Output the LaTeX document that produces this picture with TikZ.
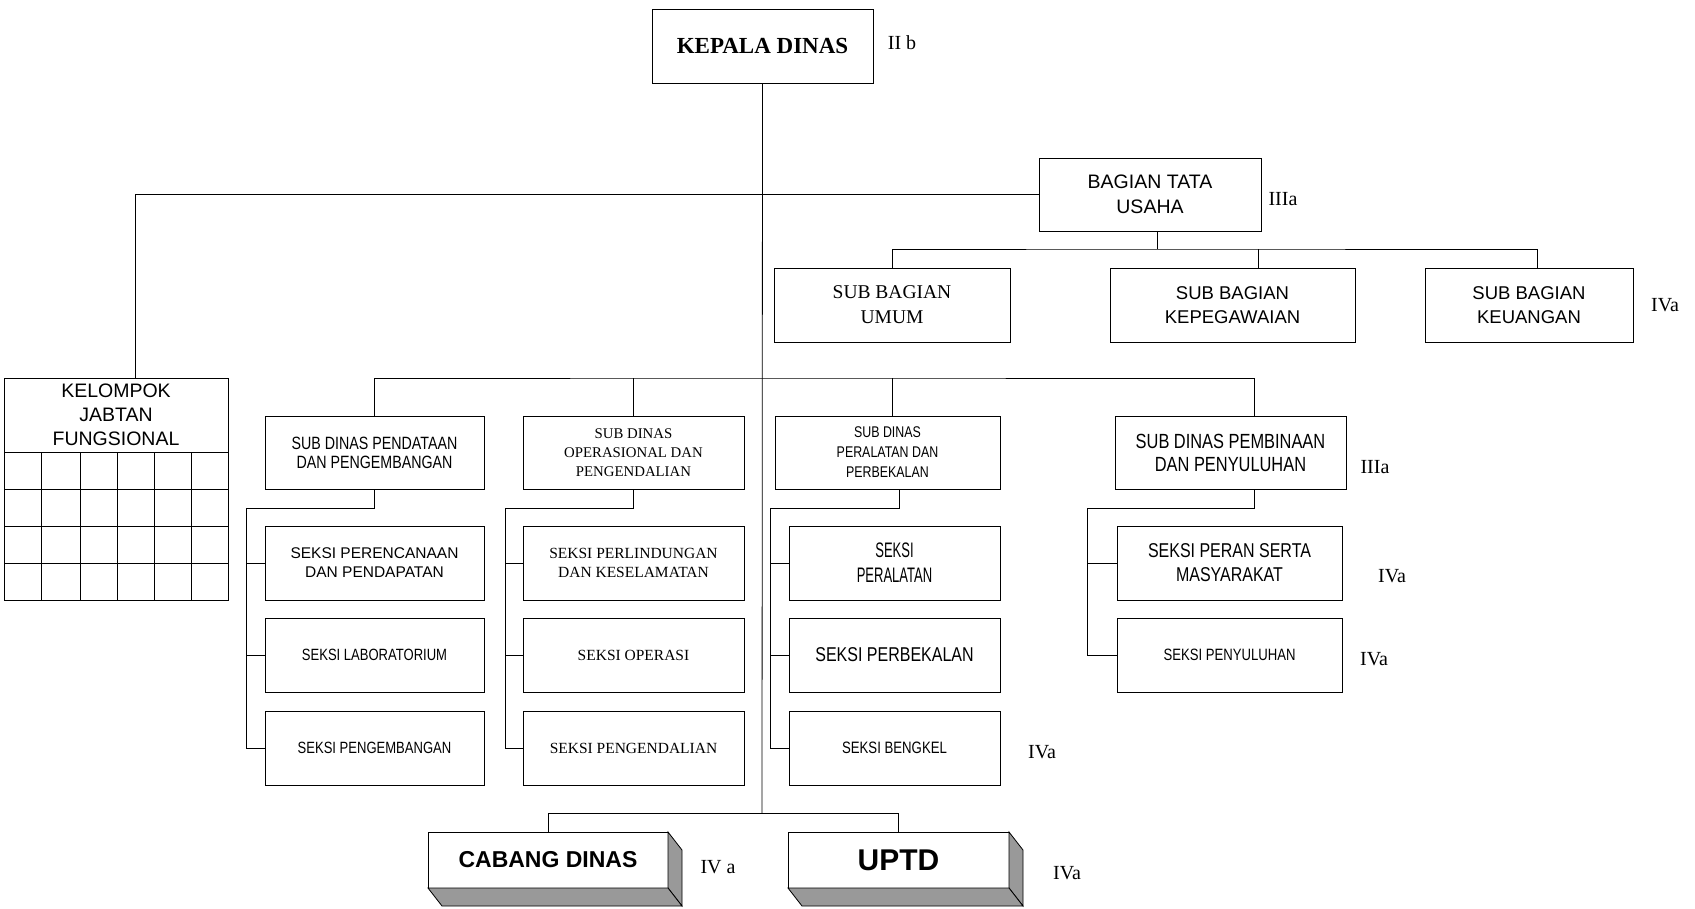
\documentclass[tikz,border=0pt]{standalone}
\usepackage{fontspec}
\setmainfont{Liberation Serif}
\setsansfont{Liberation Sans}
\newfontfamily\narrowsf[FakeStretch=0.8]{Liberation Sans}
\newfontfamily\squeezesf[FakeStretch=0.62]{Liberation Sans}
\usetikzlibrary{shapes,positioning}

\newcommand{\fsz}[2]{\fontsize{#1}{#2}\selectfont}

\tikzset{
  box/.style={draw, line width=0.9pt, inner sep=0pt, outer sep=0pt, align=center},
  sz/.style 2 args={minimum width=#1pt, minimum height=#2pt},
  link/.style={line width=0.8pt},
  gol/.style={inner sep=0pt, font={\fsz{20}{24}}},
  shade3d/.style={draw, line width=0.8pt, fill=black!40},
}

\begin{document}
\begin{tikzpicture}[x=1pt, y=-1pt]
  \useasboundingbox (0,0) rectangle (1695,908);

  % pimpinan
  \node[box, sz={221}{74}, font={\fsz{23}{27}\bfseries}] (kepala) at (762.5,46) {KEPALA DINAS};
  \node[gol] (gKepala) at (902,43) {II b};

  % bagian tata usaha
  \node[box, sz={222}{73}, font={\sffamily\fsz{19.5}{25}}] (tu) at (1150,194.5) {BAGIAN TATA\\USAHA};
  \node[gol] (gTu) at (1283,199) {IIIa};
  \node[box, sz={236}{74}, font={\fsz{19.5}{25}}] (umum) at (892,305) {SUB BAGIAN\\UMUM};
  \node[box, sz={245}{74}, font={\sffamily\fsz{18.5}{24}}] (kepeg) at (1232.5,305) {SUB BAGIAN\\KEPEGAWAIAN};
  \node[box, sz={208}{74}, font={\sffamily\fsz{18.5}{24}}] (keu) at (1529,305) {SUB BAGIAN\\KEUANGAN};
  \node[gol] (gKeu) at (1665,305) {IVa};

  % kelompok jabatan fungsional
  \node[box, sz={224}{74}, font={\sffamily\fsz{19.5}{24}}] (kjf) at (116,415) {KELOMPOK\\JABTAN\\FUNGSIONAL};
  \draw[link] (4,452) rectangle (228,600);
  \foreach \x in {41,80,117,154,191}
    \draw[link] (\x,452) -- (\x,600);
  \foreach \y in {489,526,563}
    \draw[link] (4,\y) -- (228,\y);

  % sub dinas
  \node[box, sz={219}{73}, font={\narrowsf\fsz{17.8}{19}}] (sd1) at (374.5,452.5) {SUB DINAS PENDATAAN\\DAN PENGEMBANGAN};
  \node[box, sz={221}{73}, font={\fsz{14.8}{19}}] (sd2) at (633.5,452.5) {SUB DINAS\\OPERASIONAL DAN\\PENGENDALIAN};
  \node[box, sz={225}{73}, font={\narrowsf\fsz{15.5}{20}}] (sd3) at (887.5,452.5) {SUB DINAS\\PERALATAN DAN\\PERBEKALAN};
  \node[box, sz={231}{73}, font={\narrowsf\fsz{20.5}{23}}] (sd4) at (1230.5,452.5) {SUB DINAS PEMBINAAN\\DAN PENYULUHAN};
  \node[gol] (gSd) at (1375,467) {IIIa};

  % seksi
  \node[box, sz={219}{74}, font={\sffamily\fsz{15.5}{19}}] (s11) at (374.5,563) {SEKSI PERENCANAAN\\DAN PENDAPATAN};
  \node[box, sz={219}{74}, font={\narrowsf\fsz{16.3}{19}}] (s12) at (374.5,655) {SEKSI LABORATORIUM};
  \node[box, sz={219}{74}, font={\narrowsf\fsz{16.3}{19}}] (s13) at (374.5,748) {SEKSI PENGEMBANGAN};
  \node[box, sz={221}{74}, font={\fsz{15.5}{19}}] (s21) at (633.5,563) {SEKSI PERLINDUNGAN\\DAN KESELAMATAN};
  \node[box, sz={221}{74}, font={\fsz{15.5}{19}}] (s22) at (633.5,655) {SEKSI OPERASI};
  \node[box, sz={221}{74}, font={\fsz{15.5}{19}}] (s23) at (633.5,748) {SEKSI PENGENDALIAN};
  \node[box, sz={211}{74}, font={\squeezesf\fsz{21}{25}}] (s31) at (894.5,563) {SEKSI\\PERALATAN};
  \node[box, sz={211}{74}, font={\narrowsf\fsz{20}{24}}] (s32) at (894.5,655) {SEKSI PERBEKALAN};
  \node[box, sz={211}{74}, font={\narrowsf\fsz{16.5}{19}}] (s33) at (894.5,748) {SEKSI BENGKEL};
  \node[gol] (gS33) at (1042,752) {IVa};
  \node[box, sz={225}{74}, font={\narrowsf\fsz{20}{24}}] (s41) at (1229.5,563) {SEKSI PERAN SERTA\\MASYARAKAT};
  \node[box, sz={225}{74}, font={\narrowsf\fsz{16.4}{19}}] (s42) at (1229.5,655) {SEKSI PENYULUHAN};
  \node[gol] (gS41) at (1392,576) {IVa};
  \node[gol] (gS42) at (1374,659) {IVa};

  % cabang dinas dan uptd
  \node[box, sz={240}{56}, font={\sffamily\bfseries\fsz{23}{27}}] (cabang) at (548,860) {CABANG DINAS};
  \node[box, sz={221}{56}, font={\sffamily\bfseries\fsz{30}{34}}] (uptd) at (898.5,860) {UPTD};
  \node[gol] (gCabang) at (718,867) {IV a};
  \node[gol] (gUptd) at (1067,873) {IVa};
  \foreach \u in {cabang,uptd} {
    \draw[shade3d] (\u.north east) -- ++(14,18) -- ([shift={(14,18)}]\u.south east) -- (\u.south east) -- cycle;
    \draw[shade3d] (\u.south west) -- ([shift={(14,18)}]\u.south west) -- ([shift={(14,18)}]\u.south east) -- (\u.south east) -- cycle;
  }

  % garis komando
  \coordinate (jMid) at (762,378);
  \coordinate (jBot) at (762,813);
  \coordinate (jTu) at (1157,249);
  \draw[link] (kepala.south) -- (jBot);
  \draw[link] ([xshift=19pt]kjf.north) |- (tu.west);
  \draw[link] ([xshift=7pt]tu.south) -- (jTu);
  \draw[link] (umum.north) |- (jTu) -| ([xshift=8pt]keu.north);
  \draw[link] ([xshift=25.5pt]kepeg.north) -- ([xshift=25.5pt]kepeg.north |- jTu);
  \draw[link] (sd1.north) |- (jMid) -| ([xshift=23.5pt]sd4.north);
  \draw[link] (sd2.north) -- (sd2.north |- jMid);
  \draw[link] ([xshift=4.5pt]sd3.north) -- ([xshift=4.5pt]sd3.north |- jMid);
  \draw[link] (cabang.north) |- (jBot) -| (uptd.north);

  % garis seksi
  \coordinate (k1) at (246,508);
  \coordinate (k2) at (505,508);
  \coordinate (k3) at (770,508);
  \coordinate (k4) at (1087,508);
  \draw[link] (sd1.south) |- (k1) |- (s13.west);
  \draw[link] (sd2.south) |- (k2) |- (s23.west);
  \draw[link] ([xshift=11.5pt]sd3.south) |- (k3) |- (s33.west);
  \draw[link] ([xshift=23.5pt]sd4.south) |- (k4) |- (s42.west);
  \foreach \k/\s in {k1/s11,k1/s12,k2/s21,k2/s22,k3/s31,k3/s32,k4/s41}
    \draw[link] (\k |- \s.west) -- (\s.west);
\end{tikzpicture}
\end{document}
